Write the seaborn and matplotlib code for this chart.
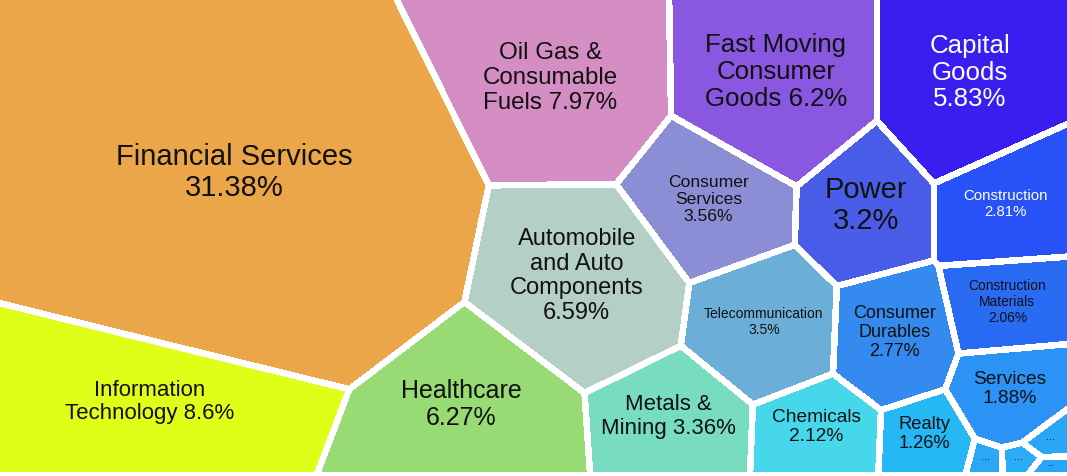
import numpy as np
import matplotlib
matplotlib.use("Agg")
import matplotlib.pyplot as plt
import matplotlib.colors as mcolors
import seaborn as sns

# --- data (share of index weight, %) ---
sectors = [
    "Financial Services", "Information Technology", "Oil Gas & Consumable Fuels",
    "Automobile and Auto Components", "Healthcare", "Fast Moving Consumer Goods",
    "Capital Goods", "Consumer Services", "Telecommunication", "Metals & Mining",
    "Power", "Construction", "Consumer Durables", "Chemicals",
    "Construction Materials", "Services", "Realty",
    "Other 1", "Other 2", "Other 3", "Other 4",
]
weights = [31.38, 8.6, 7.97, 6.59, 6.27, 6.2, 5.83, 3.56, 3.5, 3.36,
           3.2, 2.81, 2.77, 2.12, 2.06, 1.88, 1.26, 0.22, 0.18, 0.15, 0.09]
labels = [
    "Financial Services\n31.38%", "Information\nTechnology 8.6%",
    "Oil Gas &\nConsumable\nFuels 7.97%", "Automobile\nand Auto\nComponents\n6.59%",
    "Healthcare\n6.27%", "Fast Moving\nConsumer\nGoods 6.2%", "Capital\nGoods\n5.83%",
    "Consumer\nServices\n3.56%", "Telecommunication\n3.5%", "Metals &\nMining 3.36%",
    "Power\n3.2%", "Construction\n2.81%", "Consumer\nDurables\n2.77%", "Chemicals\n2.12%",
    "Construction\nMaterials\n2.06%", "Services\n1.88%", "Realty\n1.26%",
    "...", "...", "...", "...",
]

# --- styling ---
cell_colors = ["#EBA64A", "#E0FF18", "#D58EC3", "#B4CFC3", "#98DA74", "#8A57E0",
               "#3A1EF0", "#8B8DD5", "#6BAFD8", "#78DCC0", "#4A5DE8", "#2652F7",
               "#348AEE", "#46D7EB", "#2A6BF4", "#2A93F5", "#26B8F5",
               "#2AA6F6", "#2AA8F6", "#2AACF6", "#2AA4F6"]
text_colors = ["#111111"] * 6 + ["white"] + ["#111111"] * 4 + ["white"] + ["#111111"] * 9
font_sizes = [21, 16, 17.4, 17, 18, 18.6, 18.6, 12.6, 10, 16,
              21, 10.8, 13, 13.8, 9.9, 13.8, 13.2, 8, 8, 8, 6]

# layout: where each cell's centre should sit in the treemap
anchor_x = [212, 140, 538, 540, 402, 758, 966, 688, 737, 622,
            857, 1005, 885, 794, 1007, 1010, 916, 1053, 983, 1021, 1056]
anchor_y = [175, 395, 72, 275, 410, 60, 62, 192, 318, 420,
            198, 196, 328, 430, 294, 385, 436, 434, 458, 458, 466]

W, H = 1067, 473      # treemap area in pixels
GAP = 3.3             # half width of the white border


def power_dist(X, Y, sx, sy, w):
    return ((X[None] - sx[:, None]) ** 2 + (Y[None] - sy[:, None]) ** 2
            - w[:, None]).astype(np.float32)


# --- weighted voronoi (power diagram): areas follow the weights,
#     sites are nudged so each cell stays around its anchor ---
n = len(weights)
vals = np.array(weights, float)
target = vals / vals.sum() * W * H
ax0 = np.array(anchor_x, float)
ay0 = np.array(anchor_y, float)
sx, sy = ax0.copy(), ay0.copy()
w = np.zeros(n)

step = 4
gx, gy = np.meshgrid(np.arange(0, W, step) + step / 2, np.arange(0, H, step) + step / 2)
gx, gy = gx.ravel(), gy.ravel()


def fit_weights(w, iters):
    for _ in range(iters):
        lab = power_dist(gx, gy, sx, sy, w).argmin(0)
        area = np.bincount(lab, minlength=n) * step * step
        w = w + 0.4 * (target - area)
        w -= w.mean()
    return w, lab


for outer in range(8):
    w, lab = fit_weights(w, 220)
    cnt = np.bincount(lab, minlength=n)
    ok = cnt > 0
    cx = np.bincount(lab, gx, n)[ok] / cnt[ok]
    cy = np.bincount(lab, gy, n)[ok] / cnt[ok]
    sx[ok] += 0.7 * np.clip(ax0[ok] - cx, -12, 12)
    sy[ok] += 0.7 * np.clip(ay0[ok] - cy, -12, 12)
    sx = np.clip(sx, 1, W - 1)
    sy = np.clip(sy, 1, H - 1)
w, lab = fit_weights(w, 300)

# --- full resolution raster ---
X, Y = np.meshgrid(np.arange(W) + 0.5, np.arange(H) + 0.5)
X, Y = X.ravel(), Y.ravel()
d = power_dist(X, Y, sx, sy, w)
lab = d.argmin(0)
dl = np.take_along_axis(d, lab[None], 0)
dm = np.hypot(sx[:, None] - sx[None], sy[:, None] - sy[None])
np.fill_diagonal(dm, 1.0)
dm = np.maximum(dm, 1e-3)
dsel = dm[:, lab].astype(np.float32)
edge = (d - dl) / (2 * dsel)
edge[np.arange(n)[:, None] == lab[None]] = np.inf
border = (edge.min(0) < GAP).reshape(H, W)
del d, dl, dsel, edge

palette = sns.color_palette(cell_colors)
rgb = np.array([mcolors.to_rgb(c) for c in palette])
img = rgb[lab.reshape(H, W)]
img[border] = 1.0

sns.set_theme(style="white")
plt.rcParams["font.family"] = ["Liberation Sans", "DejaVu Sans"]

fig = plt.figure(figsize=(10.67, 4.77), dpi=100)
ax = fig.add_axes([0, 0, 1, 1])
ax.imshow(img, extent=(0, W, H, 0), interpolation="nearest")
ax.set_xlim(0, W)
ax.set_ylim(477, 0)
ax.axis("off")

cnt = np.bincount(lab, minlength=n)
lx = np.bincount(lab, X, n) / np.maximum(cnt, 1)
ly = np.bincount(lab, Y, n) / np.maximum(cnt, 1)
for i in range(n):
    ax.text(lx[i], ly[i] - 0.3 * font_sizes[i], labels[i], ha="center", va="center",
            fontsize=font_sizes[i], color=text_colors[i], linespacing=1.15)

fig.savefig("out.png", dpi=100, facecolor="white")
